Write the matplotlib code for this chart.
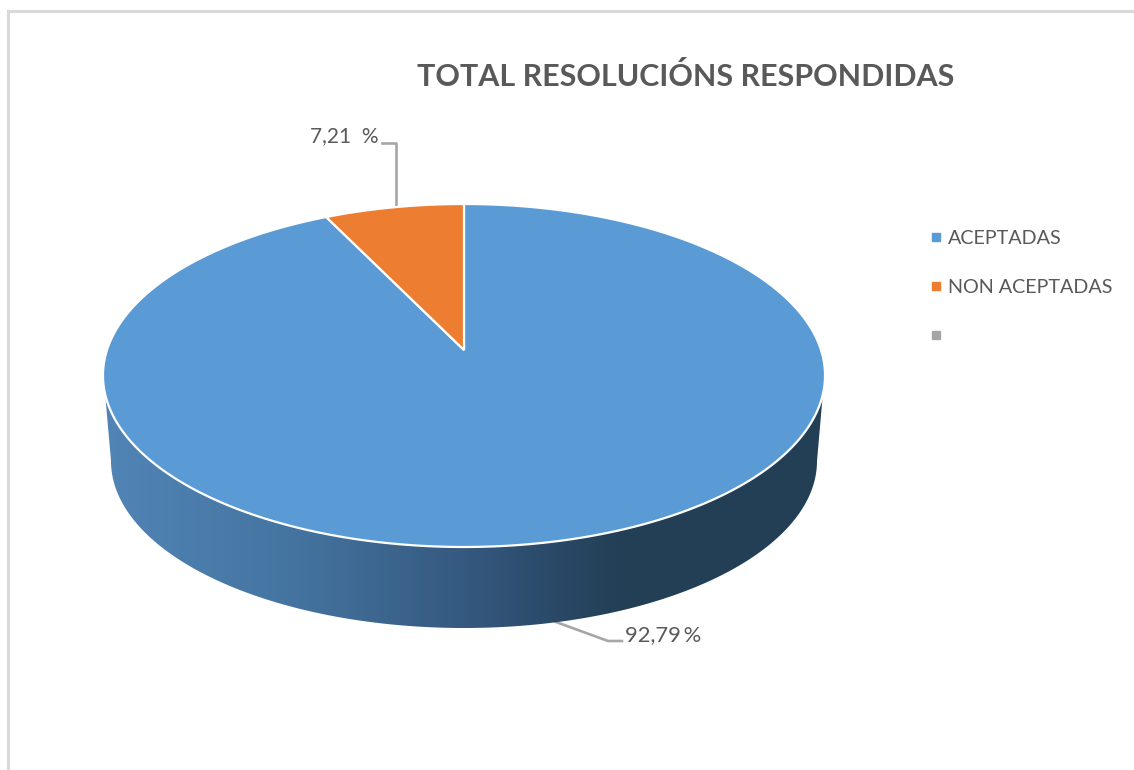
import numpy as np
import matplotlib
matplotlib.use('Agg')
import matplotlib.pyplot as plt
from matplotlib.colors import LinearSegmentedColormap
from matplotlib.lines import Line2D
from matplotlib.patches import Polygon

plt.rcParams['font.family'] = ['Lato', 'DejaVu Sans']

title = 'TOTAL RESOLUCIÓNS RESPONDIDAS'
categories = ['ACEPTADAS', 'NON ACEPTADAS']
values = [92.79, 7.21]
value_labels = ['92,79\u2009%', '7,21  %']
colors = ['#5b9bd5', '#ed7d31']
text_color = '#595959'
line_color = '#a6a6a6'

# perspective of the pie top: unit circle -> pixels
cx, cy = 464, 350
ax_scale, ay_scale, persp = 357, 167.7, 0.1487


def project(xy):
    xy = np.asarray(xy)
    w = 1 + persp * xy[:, 1]
    return np.column_stack((cx + ax_scale * xy[:, 0] / w, cy - ay_scale * xy[:, 1] / w))


fig = plt.figure(figsize=(11.34, 7.7), dpi=100)
ax = fig.add_axes([0, 0, 1, 1])
wedges, _ = ax.pie(values, startangle=90, counterclock=False, radius=1, center=(0, 0))
for w in wedges:
    w.set_visible(False)
ax.set_aspect('auto')

# side wall, lower edge of top ellipse + smaller ellipse underneath
t = np.linspace(0, 1, 300)
ang = np.radians(187 + (353 - 187) * t)
upper = project(np.column_stack((np.cos(ang), np.sin(ang))))
ang2 = np.radians(360 - 180 * t)
lower = np.column_stack((464 + 353 * np.cos(ang2), 461 - 167 * np.sin(ang2)))
wall = Polygon(np.vstack((upper, lower)), closed=True, fc='none', ec='none')
ax.add_patch(wall)
cmap = LinearSegmentedColormap.from_list('wall', [(0, '#5185b6'), (0.27, '#44739f'), (0.5, '#35597f'),
                                                  (0.62, '#2b4a69'), (0.72, '#233f55'), (1, '#233f55')])
img = ax.imshow(np.linspace(0, 1, 512).reshape(1, -1), cmap=cmap, extent=(104, 824, 640, 380), aspect='auto', zorder=1)
img.set_clip_path(wall)

# pie top, arcs taken from the wedge angles
for w, c in zip(wedges, colors):
    th = np.radians(np.linspace(w.theta1, w.theta2, 400))
    poly = np.vstack(([[0, 0]], np.column_stack((np.cos(th), np.sin(th)))))
    ax.add_patch(Polygon(project(poly), closed=True, fc=c, ec='white', lw=1.6, joinstyle='miter', zorder=2))

# leader lines and value labels
ax.plot([396, 396, 382], [205, 143, 143], color=line_color, lw=1.9, zorder=1)
ax.plot([556, 608, 622], [622, 641, 641], color=line_color, lw=1.9, zorder=0.5)
ax.text(625, 635, value_labels[0], color=text_color, fontsize=15.8, va='center', ha='left')
ax.text(379, 136, value_labels[1], color=text_color, fontsize=15, va='center', ha='right')

ax.text(686, 76, title, color=text_color, fontsize=21.9, fontweight='bold', va='center', ha='center')

# legend
handles = [Line2D([], [], marker='s', ls='none', color=c, ms=6) for c in colors + ['#a5a5a5']]
ax.legend(handles, categories + [' '], loc='upper left', bbox_to_anchor=(926 / 1134, 1 - 230 / 770),
          frameon=False, fontsize=14.2, labelcolor=text_color, labelspacing=1.63, handletextpad=0.1,
          handlelength=1.0, borderpad=0, borderaxespad=0)

# frame of the screenshot
ax.plot([8, 8, 1134], [770, 11, 11], color='#d9d9d9', lw=2.2, solid_joinstyle='miter')

ax.set_xlim(0, 1134)
ax.set_ylim(770, 0)
ax.axis('off')
fig.savefig('out.png', dpi=100)
